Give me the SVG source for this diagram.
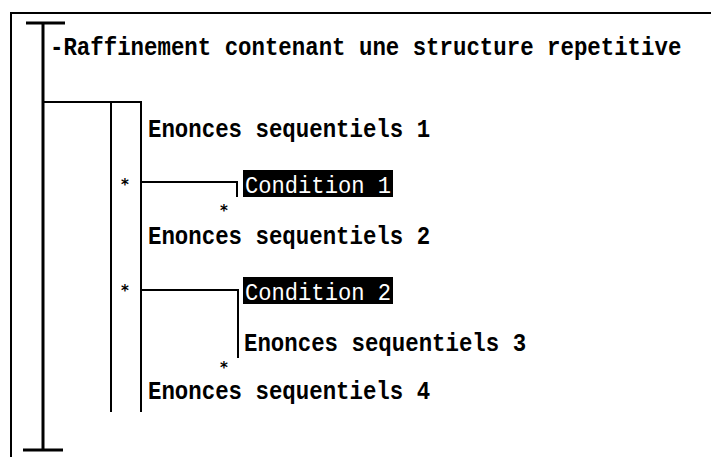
<svg xmlns="http://www.w3.org/2000/svg" width="711" height="457" viewBox="0 0 711 457">
  <style>
    .ln { stroke: #000; stroke-width: 2; fill: none; }
    .thick { stroke: #000; stroke-width: 3; fill: none; }
    .lbl { font-family: "Liberation Mono", "DejaVu Sans Mono", monospace; font-weight: bold; font-size: 22.4px; fill: #000; }
    .cond { font-family: "Liberation Mono", "DejaVu Sans Mono", monospace; font-size: 22.4px; fill: #fff; }
    .star { font-family: "DejaVu Sans", sans-serif; font-weight: bold; font-size: 15px; fill: #000; text-anchor: middle; }
  </style>
  <rect width="711" height="457" fill="#fff"/>

  <!-- page frame -->
  <path class="ln" d="M11,457 V13 H711"/>

  <!-- connectors -->
  <g id="connectors">
    <!-- main refinement bracket -->
    <path class="thick" d="M26,23 H65 M43,23 V450 M23,450 H63"/>
    <!-- repetition loop -->
    <path class="ln" d="M43,102 H141 V412"/>
    <path class="ln" d="M111,102 V412"/>
    <!-- branch to condition 1 -->
    <path class="ln" d="M141,182 H237 V197"/>
    <!-- branch to condition 2 -->
    <path class="ln" d="M141,290 H238 V358"/>
  </g>

  <g id="title">
    <text class="lbl" transform="translate(50,55) scale(1,1.12)">-Raffinement contenant une structure repetitive</text>
  </g>

  <g id="seq1">
    <text class="lbl" transform="translate(148,137) scale(1,1.12)">Enonces sequentiels 1</text>
  </g>

  <g id="cond1">
    <text class="star" x="125" y="190">*</text>
    <rect x="243" y="170" width="150" height="27" fill="#000"/>
    <text class="cond" transform="translate(245,193) scale(1,1.05)" textLength="146" lengthAdjust="spacingAndGlyphs">Condition 1</text>
    <text class="star" x="224" y="216">*</text>
  </g>

  <g id="seq2">
    <text class="lbl" transform="translate(148,244) scale(1,1.12)">Enonces sequentiels 2</text>
  </g>

  <g id="cond2">
    <text class="star" x="125" y="296">*</text>
    <rect x="243" y="277" width="150" height="27" fill="#000"/>
    <text class="cond" transform="translate(245,300) scale(1,1.05)" textLength="146" lengthAdjust="spacingAndGlyphs">Condition 2</text>
  </g>

  <g id="seq3">
    <text class="lbl" transform="translate(244,351) scale(1,1.12)">Enonces sequentiels 3</text>
  </g>

  <g id="seq4">
    <text class="star" x="224" y="373">*</text>
    <text class="lbl" transform="translate(148,399) scale(1,1.12)">Enonces sequentiels 4</text>
  </g>
</svg>
